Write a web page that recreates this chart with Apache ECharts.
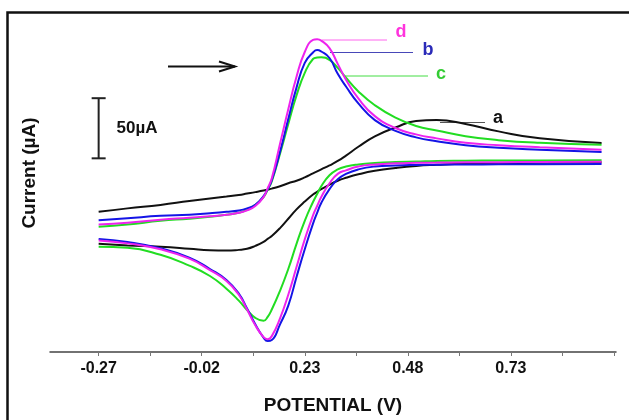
<!DOCTYPE html>
<html>
<head>
<meta charset="utf-8">
<script src="https://cdn.jsdelivr.net/npm/echarts@6/dist/echarts.min.js"></script>
<style>
  html, body { margin: 0; padding: 0; background: #fff; }
  #cv { width: 629px; height: 420px; }
</style>
</head>
<body>
<div id="cv"></div>
<script>
  // potential sweep points (V), shared by the forward and the reverse branch
  var potentials = [-0.27, -0.2, -0.12, -0.05, 0.0, 0.04, 0.07, 0.09, 0.11, 0.13, 0.14, 0.15, 0.17, 0.19, 0.21, 0.23,
                    0.25, 0.26, 0.27, 0.29, 0.31, 0.33, 0.36, 0.40, 0.45, 0.50, 0.55, 0.62, 0.70, 0.80, 0.95];

  // current (µA)
  var aForward = [-11.5, -8.6, -5.7, -2.5, -0.4, 1.2, 2.5, 3.7, 4.9, 6.2, 7.0, 7.8, 9.8, 12.3, 14.4, 17.2,
                  20.5, 22.1, 23.8, 27.1, 30.8, 35.3, 42.6, 51.3, 58.6, 64.0, 64.8, 61.5, 55.4, 49.6, 45.7];
  var aReverse = [-38.1, -39.4, -40.6, -42.2, -43.5, -43.7, -43.1, -42.2, -39.8, -36.5, -34.0, -31.6, -25.0, -17.2, -9.4, -2.9,
                  2.9, 5.2, 7.4, 11.1, 14.4, 16.8, 19.7, 22.6, 25.0, 26.7, 27.6, 28.5, 28.9, 29.3, 29.7];
  var bForward = [-18.5, -16.8, -14.8, -13.9, -12.7, -11.5, -10.3, -8.6, -5.7, 1.6, 7.4, 14.8, 38.5, 65.6, 91.8, 112.3,
                  121.0, 123.0, 121.8, 116.4, 103.3, 92.7, 78.7, 64.8, 55.8, 50.4, 47.2, 43.9, 41.8, 40.2, 38.3];
  var bReverse = [-34.0, -36.5, -41.8, -49.6, -59.0, -68.1, -79.5, -91.8, -105.0, -116.0, -118.9, -118.1, -105.0, -89.4, -65.6, -42.6,
                  -21.3, -12.3, -4.1, 7.4, 15.6, 20.1, 23.8, 26.2, 27.1, 27.5, 27.7, 27.9, 28.0, 28.1, 28.3];
  var cForward = [-23.8, -22.1, -18.9, -17.2, -15.6, -13.9, -12.3, -9.8, -5.7, 0.8, 7.0, 13.9, 36.9, 61.5, 85.3, 104.1,
                  115.6, 116.8, 117.0, 114.8, 108.2, 100.0, 88.6, 77.1, 66.8, 59.9, 56.2, 51.4, 48.1, 45.9, 44.3];
  var cReverse = [-40.6, -41.4, -47.2, -56.2, -64.8, -75.4, -85.3, -93.1, -99.6, -102.1, -98.8, -92.7, -77.1, -59.0, -38.1, -18.9,
                  -3.3, 3.3, 9.8, 18.9, 23.8, 26.2, 27.9, 29.1, 29.9, 30.3, 30.8, 31.0, 31.2, 31.3, 31.4];
  var dForward = [-22.1, -20.5, -18.0, -16.4, -15.2, -13.9, -12.3, -10.3, -6.6, 0.8, 8.2, 16.4, 45.1, 73.8, 100.9, 121.4,
                  131.4, 132.0, 130.9, 124.6, 111.5, 98.4, 82.8, 68.1, 58.2, 52.9, 49.6, 45.9, 43.9, 42.2, 40.2];
  var dReverse = [-35.3, -37.7, -42.6, -50.4, -59.9, -68.9, -80.4, -92.7, -105.8, -115.6, -117.3, -114.8, -100.0, -80.4, -57.4, -34.4,
                  -14.4, -6.6, 0.8, 12.3, 20.1, 23.0, 26.2, 27.9, 28.9, 29.3, 29.5, 29.7, 29.8, 29.9, 30.1];

  // axis ticks
  var tickValues = [-0.27, -0.145, -0.02, 0.105, 0.23, 0.355, 0.48, 0.605, 0.73, 0.855, 0.98];
  var labelValues = [-0.27, -0.02, 0.23, 0.48, 0.73];

  // scale bar: 50 µA
  var scaleBarSize = 50;

  var FONT = '"Liberation Sans", Arial, sans-serif';
  var myChart = echarts.init(document.getElementById('cv'));

  function pairs(ys) {
    return potentials.map(function (v, i) { return [v, ys[i]]; });
  }
  function curve(name, color, ys) {
    return {
      name: name,
      type: 'line',
      data: pairs(ys),
      smooth: 0.5,
      showSymbol: false,
      lineStyle: { color: color, width: 2 }
    };
  }

  var option = {
    animation: false,
    grid: { left: 50, right: 13, top: 20, bottom: 64 },
    xAxis: {
      type: 'value',
      min: -0.388,
      max: 0.985,
      name: 'POTENTIAL (V)',
      nameLocation: 'middle',
      nameGap: 44,
      nameTextStyle: { fontFamily: FONT, fontWeight: 'bold', fontSize: 19, color: '#111' },
      axisLine: { onZero: false, lineStyle: { color: '#444', width: 1.5 } },
      axisTick: { customValues: tickValues, length: 4, lineStyle: { color: '#777' } },
      axisLabel: {
        customValues: labelValues,
        margin: 9,
        fontFamily: FONT, fontWeight: 'bold', fontSize: 16, color: '#111',
        formatter: function (v) { return v.toFixed(2); }
      },
      splitLine: { show: false }
    },
    yAxis: {
      type: 'value',
      min: -128,
      max: 148,
      show: false
    },
    series: [
      curve('a', '#111111', aForward),
      curve('a', '#111111', aReverse),
      curve('c', '#22dd22', cForward),
      curve('c', '#22dd22', cReverse),
      curve('b', '#1414e6', bForward),
      curve('b', '#1414e6', bReverse),
      curve('d', '#ee22ee', dForward),
      curve('d', '#ee22ee', dReverse)
    ]
  };

  myChart.setOption(option);

  // scale bar placed through the chart's own scale
  var barTop = myChart.convertToPixel({ gridIndex: 0 }, [-0.27, 83]);
  var barBot = myChart.convertToPixel({ gridIndex: 0 }, [-0.27, 83 - scaleBarSize]);

  function label(text, x, y, color, size) {
    return { type: 'text', x: x, y: y, style: { text: text, fill: color, font: 'bold ' + size + 'px ' + FONT, align: 'center', verticalAlign: 'middle' } };
  }
  function seg(x1, y1, x2, y2, color, w) {
    return { type: 'line', shape: { x1: x1, y1: y1, x2: x2, y2: y2 }, style: { stroke: color, lineWidth: w } };
  }

  myChart.setOption({
    graphic: [
      // figure frame (cut at right and bottom)
      { type: 'rect', shape: { x: 7.5, y: 12.5, width: 700, height: 500 }, style: { fill: null, stroke: '#111', lineWidth: 2.5 } },
      // y title
      { type: 'text', x: 30, y: 173, rotation: Math.PI / 2,
        style: { text: 'Current (µA)', fill: '#111', font: 'bold 19px ' + FONT, align: 'center', verticalAlign: 'middle' } },
      // scale bar
      seg(barTop[0], barTop[1], barBot[0], barBot[1], '#222', 2),
      seg(barTop[0] - 7, barTop[1], barTop[0] + 7, barTop[1], '#222', 2),
      seg(barBot[0] - 7, barBot[1], barBot[0] + 7, barBot[1], '#222', 2),
      label('50µA', 137, 128, '#111', 17),
      // sweep arrow
      seg(168, 66.5, 235, 66.5, '#111', 2),
      { type: 'polyline', shape: { points: [[219, 61.5], [235, 66.5], [219, 71.5]] }, style: { stroke: '#111', lineWidth: 2, fill: null } },
      // curve labels with leader lines
      seg(322, 40, 387, 40, '#ff66ee', 1),
      label('d', 401, 32, '#ff33dd', 18),
      seg(330, 52.5, 413, 52.5, '#4848b8', 1),
      label('b', 428, 50, '#2a2ab8', 18),
      seg(345, 76, 428, 76, '#44dd44', 1),
      label('c', 441, 74, '#33cc33', 18),
      seg(440, 122.5, 485, 122.5, '#555', 1),
      label('a', 498, 118, '#111', 18)
    ]
  });
</script>
</body>
</html>
